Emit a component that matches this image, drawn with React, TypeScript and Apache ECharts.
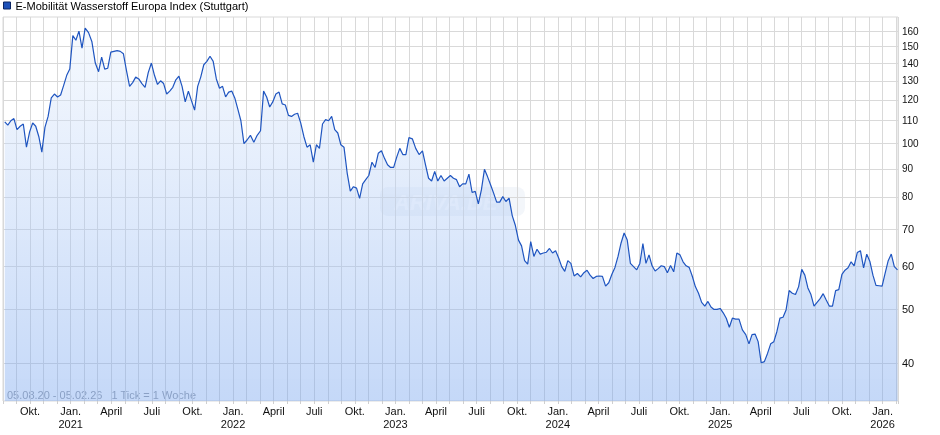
import React, { useEffect, useRef } from "react";
import * as echarts from "echarts";

const TITLE = "E-Mobilität Wasserstoff Europa Index (Stuttgart)";
const RANGE_TEXT = "05.08.20 - 05.02.26   1 Tick = 1 Woche";
const START_YEAR = 2020;
const START_MONTH = 7; // August (0-based)
const START_DAY = 5;
const END_MONTH_POS = 66.143; // 05.02.2026 in months since 01.08.2020

// weekly closes, 05.08.2020 .. 04.02.2026
const values: number[] = [
  109.5, 108, 110, 111, 106, 107.5, 108.5, 98.5, 105, 109,
  107.5, 103, 96.5, 107, 112, 121, 123, 121.5, 122.5, 127.5,
  133, 136.5, 157, 154, 160, 149, 162, 159, 153, 140,
  135, 143.5, 136.5, 137, 146.5, 147, 147.5, 147, 145.5, 135.5,
  127, 129, 132, 131, 128.5, 126.5, 134.5, 140, 133, 128,
  130, 128.5, 123, 124.5, 126.5, 130.5, 132.5, 127, 119, 124.5,
  119.5, 115, 127, 132, 139, 141, 144, 141, 131, 126,
  127, 121.5, 124, 124.5, 121, 115.5, 110,
  100, 101.5, 103.5, 100.5, 103.5, 105.5, 124.5, 121.5, 116.5, 119,
  123, 124, 118, 117.5, 112.5, 112, 113, 113.5, 109, 103,
  98.5, 99.5, 92.5, 99.5, 98, 108.5, 110.5, 110, 112, 106,
  104.5, 99.5, 98.5, 88.5, 82, 83.5, 83, 79.5, 84.5, 86,
  87.5, 92.5, 90.5, 96, 97, 94, 91.5, 90.5, 90.5, 94.5,
  98, 95.5, 95.5, 102.5, 102, 98, 95.5, 97, 91.5, 86.5,
  85.5, 89, 85.5, 87.5, 85.5, 86.5, 87.5, 86.5, 86, 83.5,
  84.5, 84.5, 88, 81.5,
  81.9, 77.7, 82.4, 89.8, 87.1, 84.2, 81.3, 78.3, 78.3, 80.1,
  78.5, 79.6, 74, 71, 66.8, 65.2, 61.3, 60.4, 66.4, 62.4,
  64.3, 63.0, 63.3, 63.5, 64.5, 63.3, 63.9, 62.0, 59.8, 58.6,
  61.3, 60.6, 57.5, 58.1, 57.3, 58.3, 58.9, 57.7, 56.9, 57.4,
  57.5, 57.4, 55.1, 55.9, 57.9, 59.6, 62.4, 66.0, 68.8, 66.8,
  60.6, 59.8, 59.0, 60.6, 65.8, 60.6, 62.8, 60.0, 58.7, 59.3,
  60.0, 59.8, 58.3, 60.1, 58.5, 63.3, 62.8, 61.0,
  60.0, 59.6, 57.5, 55.0, 53.5, 51.5, 50.7, 51.7, 50.5, 50.0,
  50.0, 50.2, 49.3, 48.2, 46.4, 48.2, 48.0, 48.0, 45.9, 45.0,
  43.3, 45.0, 45.1, 43.7, 40.0, 40.2, 41.6, 43.3, 43.7, 45.6,
  48.2, 48.4, 49.9, 54.1, 53.5, 53.2, 55.0, 59.1, 57.7, 54.7,
  53.2, 50.7, 51.5, 52.3, 53.4, 52.0, 50.7, 50.7, 54.1, 54.3,
  57.9, 58.9, 59.5, 61.0, 60.0, 63.4, 63.9, 59.5, 63.0, 61.1,
  57.7, 55.3, 55.2, 55.1, 58.2, 61.3, 63.0, 59.8, 59.0,
];

const yTicks: number[] = [40, 50, 60, 70, 80, 90, 100, 110, 120, 130, 140, 150, 160];
const monthLabels: Record<number, string> = { 0: "Jan.", 3: "April", 6: "Juli", 9: "Okt." };

const FONT = "'Liberation Sans', Arial, Helvetica, sans-serif";

function monthPos(d: Date): number {
  const y = d.getUTCFullYear();
  const m = d.getUTCMonth();
  const day = d.getUTCDate();
  const dim = new Date(Date.UTC(y, m + 1, 0)).getUTCDate();
  return (y - START_YEAR) * 12 + m - START_MONTH + (day - 1) / dim;
}

export default function App() {
  const ref = useRef<HTMLDivElement>(null);

  useEffect(() => {
    if (!ref.current) return;
    const chart = echarts.init(ref.current, undefined, { renderer: "svg" });

    const data = values.map((v, i) => [
      monthPos(new Date(Date.UTC(START_YEAR, START_MONTH, START_DAY + 7 * i))),
      v,
    ]);

    chart.setOption({
      animation: false,
      textStyle: { fontFamily: FONT },
      legend: {
        left: 3,
        top: 0,
        padding: 0,
        icon: "rect",
        itemWidth: 7,
        itemHeight: 7,
        selectedMode: false,
        textStyle: { fontSize: 11, color: "#000", fontFamily: FONT },
        data: [
          {
            name: TITLE,
            itemStyle: { color: "#1d50b8", borderColor: "#0b2462", borderWidth: 1 },
          },
        ],
      },
      grid: {
        left: 3,
        right: 42,
        top: 17,
        bottom: 34,
        show: true,
        borderColor: "#d9d9d9",
        borderWidth: 1,
      },
      xAxis: {
        type: "value",
        min: 0,
        max: END_MONTH_POS,
        interval: 1,
        axisLine: { show: false },
        axisTick: { show: true, length: 3, lineStyle: { color: "#cfcfcf" } },
        splitLine: { show: true, lineStyle: { color: "#d9d9d9", width: 1 } },
        axisLabel: {
          margin: 3,
          fontSize: 11,
          lineHeight: 13,
          color: "#111",
          fontFamily: FONT,
          showMinLabel: true,
          showMaxLabel: true,
          formatter: (v: number) => {
            if (Math.abs(v - Math.round(v)) > 1e-6) return "";
            const idx = Math.round(v) + START_MONTH;
            const m = idx % 12;
            const y = START_YEAR + Math.floor(idx / 12);
            const name = monthLabels[m];
            if (!name) return "";
            return m === 0 ? name + "\n" + y : name;
          },
        },
      },
      yAxis: {
        type: "log",
        logBase: 10,
        min: 34.1,
        max: 169.7,
        position: "right",
        axisLine: { show: false },
        axisTick: { show: false },
        axisLabel: { show: false },
        splitLine: { show: false },
      },
      series: [
        {
          name: TITLE,
          type: "line",
          data,
          showSymbol: false,
          symbol: "none",
          lineStyle: { color: "#1f55c0", width: 1.2 },
          itemStyle: { color: "#1d50b8" },
          areaStyle: {
            color: new echarts.graphic.LinearGradient(0, 0, 0, 1, [
              { offset: 0, color: "rgba(232,241,253,0.55)" },
              { offset: 1, color: "rgba(112,160,238,0.58)" },
            ]),
          },
          z: 2,
          markLine: {
            silent: true,
            z: 1,
            symbol: ["none", "none"],
            lineStyle: { color: "#d9d9d9", width: 1, type: "solid" },
            emphasis: { disabled: true },
            label: {
              position: "end",
              distance: 4,
              formatter: "{b}",
              color: "#111",
              fontFamily: FONT,
            },
            data: yTicks.map((v) => ({
              name: String(v),
              yAxis: v,
              label: { fontSize: v >= 80 ? 10 : 11 },
            })),
          },
        },
      ],
      graphic: [
        {
          type: "text",
          left: 7,
          top: 389,
          silent: true,
          style: { text: RANGE_TEXT, fontSize: 11, fill: "#9a9fa8", fontFamily: FONT },
        },
        {
          type: "group",
          left: 380,
          top: 187,
          silent: true,
          children: [
            {
              type: "rect",
              shape: { x: 0, y: 0, width: 145, height: 29, r: 8 },
              style: { fill: "rgba(225,232,242,0.4)" },
            },
            {
              type: "text",
              x: 14,
              y: 4,
              style: {
                text: "ARIVA.DE",
                fontSize: 22,
                fontStyle: "italic",
                fontWeight: "bold",
                fill: "rgba(255,255,255,0.7)",
                fontFamily: FONT,
              },
            },
          ],
        },
      ],
    });

    return () => chart.dispose();
  }, []);

  return (
    <div
      ref={ref}
      style={{ position: "fixed", left: 0, top: 0, width: 940, height: 435 }}
    />
  );
}
